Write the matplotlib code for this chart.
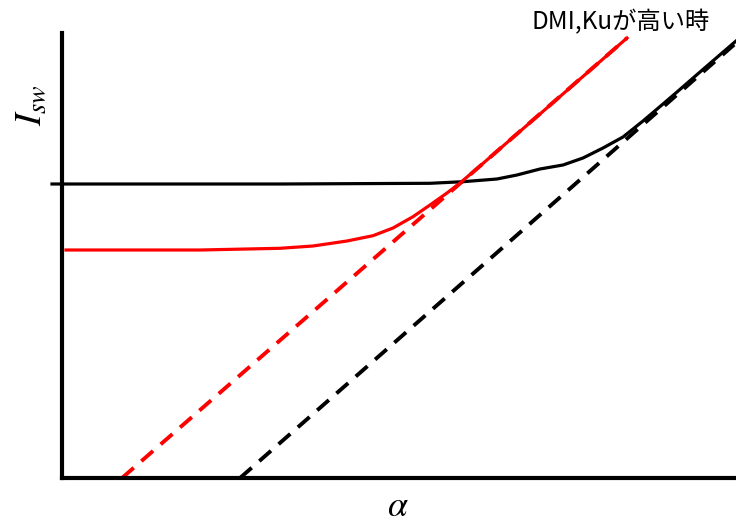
import matplotlib
matplotlib.use("Agg")
import matplotlib.pyplot as plt

plt.rcParams['font.family'] = ['Noto Sans CJK JP', 'DejaVu Sans']
plt.rcParams['mathtext.fontset'] = 'stix'

# 曲線データ（任意単位）
black_x = [-10, 218, 368, 401, 435, 455, 478, 501, 521, 541, 561, 581, 601, 615, 638, 674]
black_y = [294, 294, 294.7, 296.3, 299, 303, 309, 313, 320, 330, 341, 357, 374, 386, 406, 437]

red_x = [4, 138, 218, 251, 285, 311, 331, 351, 368, 385, 398, 418, 478, 565]
red_y = [228, 228, 229.7, 232, 237, 242.3, 250, 261.3, 273, 285, 295, 312, 364, 440]

red_dash_x = [60, 565]
red_dash_y = [0, 440]

black_dash_x = [178, 674]
black_dash_y = [0, 435]

label_text = 'DMI,Kuが高い時'

fig = plt.figure(figsize=(7.36, 5.25), dpi=100)
ax = fig.add_axes([62/736, 47/525, 674/736, 445/525])

ax.plot(black_dash_x, black_dash_y, color='black', lw=2.8, dashes=(4, 2.6))
ax.plot(red_dash_x, red_dash_y, color='red', lw=2.8, dashes=(4, 2.6))
ax.plot(black_x, black_y, color='black', lw=2.3, clip_on=False, zorder=3,
        solid_joinstyle='round')
ax.plot(red_x, red_y, color='red', lw=2.3, zorder=3, solid_joinstyle='round')

ax.set_xlim(0, 674)
ax.set_ylim(0, 445)
for s in ['top', 'right']:
    ax.spines[s].set_visible(False)
for s in ['left', 'bottom']:
    ax.spines[s].set_linewidth(3)
ax.set_xticks([])
ax.set_yticks([])

fig.text(398/736, 1 - 506/525, r'$\alpha$', fontsize=26, ha='center', va='center')
fig.text(30/736, 1 - 105/525, r'$I_{sw}$', fontsize=27, ha='center', va='center', rotation=90)
fig.text(531/736, 1 - 22/525, label_text, fontsize=17.5, ha='left', va='center')

fig.savefig('out.png', dpi=100)
